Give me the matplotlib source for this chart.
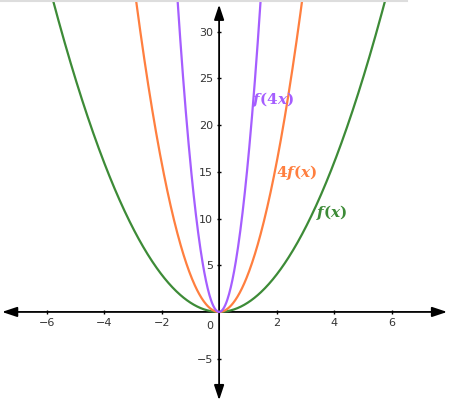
import numpy as np
import matplotlib.pyplot as plt
from matplotlib.lines import Line2D

# f(x) = x^2 and its transformations
names = [r'$\mathbfit{f}\mathbf{(}\mathbfit{x}\mathbf{)}$',
         r'$\mathbf{4}\mathbfit{f}\mathbf{(}\mathbfit{x}\mathbf{)}$',
         r'$\mathbfit{f}\mathbf{(4}\mathbfit{x}\mathbf{)}$']
coefs = [1, 4, 16]
colors = ['#3d8b37', '#ff7f3f', '#a55eff']
label_pos = [(3.93, 10.6), (2.71, 14.9), (1.88, 22.7)]
xticks = [-6, -4, -2, 2, 4, 6]
yticks = [-5, 5, 10, 15, 20, 25, 30]

plt.rcParams['mathtext.fontset'] = 'dejavuserif'

fig = plt.figure(figsize=(4.5, 4.03), dpi=100)
ax = fig.add_axes([0, 0, 1, 1])
ax.set_xlim(-7.62, 8.03)
ax.set_ylim(-9.75, 33.4)

x = np.linspace(-7.6, 8.0, 800)
for c, col in zip(coefs, colors):
    ax.plot(x, c * x ** 2, color=col, lw=1.6, zorder=3)

for n, col, (tx, ty) in zip(names, colors, label_pos):
    ax.text(tx, ty, n, color=col, fontsize=11, ha='center', va='center', zorder=4)

# axes through origin
for s in ['top', 'right']:
    ax.spines[s].set_visible(False)
ax.spines['left'].set_position('zero')
ax.spines['bottom'].set_position('zero')
ax.spines['left'].set_visible(False)
ax.spines['bottom'].set_visible(False)
ax.annotate('', xy=(7.93, 0), xytext=(-7.55, 0),
            arrowprops=dict(arrowstyle='<|-|>,head_length=0.9,head_width=0.3',
                            color='black', lw=1.3, shrinkA=0, shrinkB=0), zorder=2)
ax.annotate('', xy=(0, 32.9), xytext=(0, -9.45),
            arrowprops=dict(arrowstyle='<|-|>,head_length=0.9,head_width=0.3',
                            color='black', lw=1.3, shrinkA=0, shrinkB=0), zorder=2)

ax.set_xticks(xticks)
ax.set_yticks(yticks)
ax.set_xticklabels([str(t).replace('-', '\u2212') for t in xticks])
ax.set_yticklabels([str(t).replace('-', '\u2212') for t in yticks])
ax.tick_params(axis='both', length=3, width=1, color='black', direction='inout',
               labelsize=8, labelcolor='#333333', pad=3)
ax.text(-0.22, -1.0, '0', fontsize=8, color='#333333', ha='right', va='top')

fig.add_artist(Line2D([0, 407 / 450], [1 - 1 / 403, 1 - 1 / 403],
                      color='#dddddd', lw=1.5, transform=fig.transFigure))

fig.savefig('out.png', dpi=100)
